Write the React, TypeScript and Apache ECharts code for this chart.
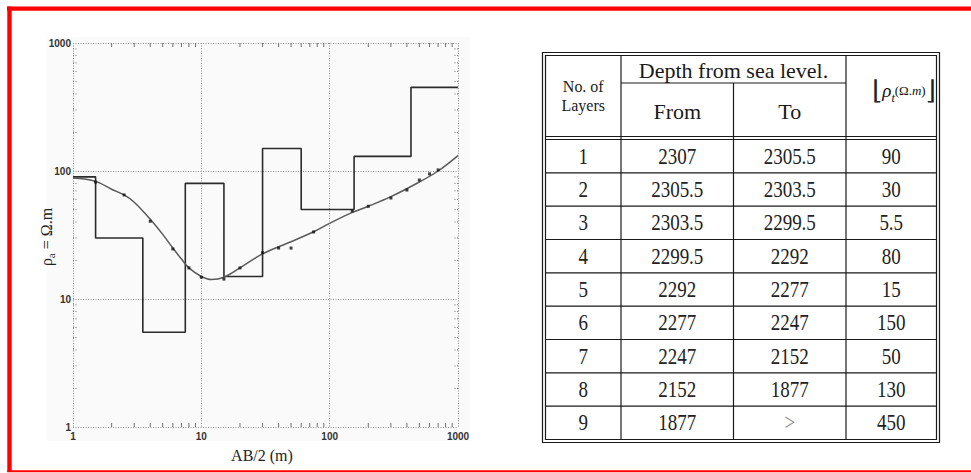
import React, { useEffect, useRef } from 'react';
import * as echarts from 'echarts';

// ---- Table data ----
const layerNo = ['1', '2', '3', '4', '5', '6', '7', '8', '9'];
const depthFrom = ['2307', '2305.5', '2303.5', '2299.5', '2292', '2277', '2247', '2152', '1877'];
const depthTo = ['2305.5', '2303.5', '2299.5', '2292', '2277', '2247', '2152', '1877', '>'];
const resistivity = [90, 30, 5.5, 80, 15, 150, 50, 130, 450];
const SURFACE = 2307;

// ---- Chart data ----
const AXIS_TICKS = [1, 10, 100, 1000];
const MINOR_TICKS = [2, 3, 4, 5, 6, 7, 8, 9, 20, 30, 40, 50, 60, 70, 80, 90, 200, 300, 400, 500, 600, 700, 800, 900];

const curveX = [1, 1.5, 2, 2.5, 3, 4, 5, 6, 7, 8, 10, 12, 15, 20, 30, 50, 75, 100, 150, 200, 300, 500, 700, 1000];
const curveY = [88, 83, 72, 65, 57, 42, 32, 25, 20.5, 17.5, 15, 14.2, 14.8, 17.5, 22.5, 28, 33.5, 39, 47.5, 53, 63, 82, 100, 132];

const dotX = [1.5, 2.5, 4, 6, 8, 10, 15, 20, 30, 40, 50, 75, 150, 200, 300, 400, 500, 600, 700];
const dotY = [82, 65, 40.5, 24.6, 17.5, 14.8, 14.3, 17.5, 23, 25, 25, 33.4, 48.7, 53, 61.5, 71, 85, 95, 102];

export default function App() {
  const ref = useRef<HTMLDivElement>(null);

  useEffect(() => {
    if (!ref.current) return;
    const chart = echarts.init(ref.current, null, { renderer: 'svg' });

    // model step line built from table depths (AB/2 = depth below surface)
    const stepPts: number[][] = [];
    let prev = AXIS_TICKS[0];
    for (let i = 0; i < resistivity.length; i++) {
      const end = i < resistivity.length - 1 ? SURFACE - Number(depthTo[i]) : AXIS_TICKS[AXIS_TICKS.length - 1];
      stepPts.push([prev, resistivity[i]], [end, resistivity[i]]);
      prev = end;
    }
    const curve = curveX.map((x, i) => [x, curveY[i]]);
    const dots = dotX.map((x, i) => [x, dotY[i]]);

    const xMin = AXIS_TICKS[0];
    const xMax = AXIS_TICKS[AXIS_TICKS.length - 1];

    // ---- table geometry ----
    const TL = 542.5, TR = 939.5, TT = 52.5, TB = 442.5;
    const IL = 545.5, IR = 936.5, IT = 55.5, IB = 439.5;
    const C1 = 621, C2 = 733.5, C3 = 846;
    const HMID = 83, H1 = 136.5, H2 = 139.5;
    const rowH = (IB - H2) / layerNo.length;
    const colCenters = [(IL + C1) / 2, (C1 + C2) / 2, (C2 + C3) / 2, (C3 + IR) / 2];
    const ink = '#1a1a1a';
    const lw = 1.2;
    const ln = (x1: number, y1: number, x2: number, y2: number) => ({
      type: 'line', silent: true,
      shape: { x1, y1, x2, y2 },
      style: { stroke: ink, lineWidth: lw },
    });
    const serif = 'Liberation Serif';
    const txt = (x: number, y: number, text: string, fontSize: number, fill = '#1a1a1a', scaleY = 1) => ({
      type: 'text', silent: true, x, y, scaleY,
      style: { text, fontSize, fontFamily: serif, fill, align: 'center', verticalAlign: 'middle' },
    });

    const tableEls: any[] = [
      { type: 'rect', silent: true, shape: { x: TL, y: TT, width: TR - TL, height: TB - TT }, style: { fill: 'none', stroke: ink, lineWidth: lw } },
      { type: 'rect', silent: true, shape: { x: IL, y: IT, width: IR - IL, height: IB - IT }, style: { fill: 'none', stroke: ink, lineWidth: lw } },
      ln(IL, H1, IR, H1),
      ln(IL, H2, IR, H2),
      ln(C1, IT, C1, IB),
      ln(C3, IT, C3, IB),
      ln(C2, HMID, C2, IB),
      ln(C1, HMID, C3, HMID),
    ];
    for (let k = 1; k < layerNo.length; k++) {
      const y = H2 + k * rowH;
      tableEls.push(ln(IL, y, IR, y));
    }
    tableEls.push(txt(colCenters[0], 86, 'No. of', 16, '#1a1a1a', 1.1));
    tableEls.push(txt(colCenters[0], 105, 'Layers', 16, '#1a1a1a', 1.1));
    tableEls.push(txt((C1 + C3) / 2, 70, 'Depth from sea level.', 22));
    tableEls.push(txt(colCenters[1], 111, 'From', 22));
    tableEls.push(txt(colCenters[2], 111, 'To', 22));
    tableEls.push({
      type: 'text', silent: true, x: 904, y: 90,
      style: {
        text: '{br|⌊}{rho|ρ}{sub|t}{s|(Ω.}{mi|m}{s|)}{br|⌋}',
        align: 'center', verticalAlign: 'middle', fill: '#111',
        rich: {
          br: { fontSize: 26, fontFamily: 'DejaVu Serif', fill: '#222', lineHeight: 28 },
          rho: { fontSize: 19, fontFamily: serif, fontStyle: 'italic', fill: '#111', lineHeight: 28 },
          sub: { fontSize: 12, fontFamily: serif, fontStyle: 'italic', fill: '#111', lineHeight: 28, verticalAlign: 'bottom' },
          s: { fontSize: 13, fontFamily: serif, fill: '#111', lineHeight: 28 },
          mi: { fontSize: 13, fontFamily: serif, fontStyle: 'italic', fill: '#111', lineHeight: 28 },
        },
      },
    });
    for (let i = 0; i < layerNo.length; i++) {
      const cy = H2 + (i + 0.5) * rowH;
      tableEls.push(txt(colCenters[0], cy, layerNo[i], 19, '#222', 1.2));
      tableEls.push(txt(colCenters[1], cy, depthFrom[i], 19, '#222', 1.2));
      tableEls.push(txt(colCenters[2], cy, depthTo[i], 19, depthTo[i] === '>' ? '#888' : '#222', 1.2));
      tableEls.push(txt(colCenters[3], cy, String(resistivity[i]), 19, '#222', 1.2));
    }

    const frameEls: any[] = [
      { type: 'rect', silent: true, z: -10, shape: { x: 47, y: 37, width: 423, height: 404 }, style: { fill: '#fafafa' } },
      { type: 'rect', silent: true, shape: { x: 7, y: 6.5, width: 964, height: 4.3 }, style: { fill: '#ff0000' } },
      { type: 'rect', silent: true, shape: { x: 7.3, y: 6.5, width: 4.4, height: 465.5 }, style: { fill: '#ff0000' } },
      { type: 'rect', silent: true, shape: { x: 7.3, y: 470.2, width: 963.7, height: 2 }, style: { fill: '#ff0000' } },
      txt(262, 455, 'AB/2 (m)', 16, '#222'),
      {
        type: 'text', silent: true, x: 46, y: 237, rotation: Math.PI / 2,
        style: {
          text: '{a|ρ}{b|a}{a| = Ω.m}',
          align: 'center', verticalAlign: 'middle', fill: '#222',
          rich: {
            a: { fontSize: 16, fontFamily: serif, fill: '#222', lineHeight: 20 },
            b: { fontSize: 11, fontFamily: serif, fill: '#222', lineHeight: 20, verticalAlign: 'bottom' },
          },
        },
      },
    ];

    const labelFmt = (v: number) => String(Math.round(v));
    const labelStyle = { fontSize: 10, fontWeight: 'bold', color: '#333', fontFamily: 'Liberation Sans' };
    const gridLine = { show: true, lineStyle: { color: '#8c8c8c', type: [1, 1.5], width: 1 } };

    const tickColor = '#707070';

    const option: any = {
      animation: false,
      backgroundColor: '#ffffff',
      grid: { left: 73, top: 43, width: 385, height: 384, containLabel: false },
      xAxis: {
        type: 'log', logBase: 10, min: xMin, max: xMax,
        axisLine: { show: false }, axisTick: { show: false },
        axisLabel: { ...labelStyle, margin: 4, formatter: labelFmt },
        splitLine: gridLine,
      },
      yAxis: {
        type: 'log', logBase: 10, min: xMin, max: xMax,
        axisLine: { show: false }, axisTick: { show: false },
        axisLabel: { ...labelStyle, margin: 2, formatter: labelFmt },
        splitLine: gridLine,
      },
      graphic: { elements: [...frameEls, ...tableEls] },
      series: [
        {
          type: 'custom', silent: true, clip: false, z: 2,
          data: MINOR_TICKS.map((v) => [v, xMin]),
          encode: { x: 0, y: 1 },
          renderItem: (params: any, api: any) => {
            const v = api.value(0);
            const b = api.coord([v, xMin]);
            const t = api.coord([v, xMax]);
            return {
              type: 'group',
              children: [
                { type: 'line', shape: { x1: b[0], y1: b[1], x2: b[0], y2: b[1] - 4 }, style: { stroke: tickColor, lineWidth: 1 } },
                { type: 'line', shape: { x1: t[0], y1: t[1], x2: t[0], y2: t[1] + 4 }, style: { stroke: tickColor, lineWidth: 1 } },
              ],
            };
          },
        },
        {
          type: 'custom', silent: true, clip: false, z: 2,
          data: MINOR_TICKS.map((v) => [xMin, v]),
          encode: { x: 0, y: 1 },
          renderItem: (params: any, api: any) => {
            const v = api.value(1);
            const l = api.coord([xMin, v]);
            const r = api.coord([xMax, v]);
            return {
              type: 'group',
              children: [
                { type: 'line', shape: { x1: l[0], y1: l[1], x2: l[0] + 5, y2: l[1] }, style: { stroke: tickColor, lineWidth: 1, lineDash: [1, 1.5] } },
                { type: 'line', shape: { x1: r[0], y1: r[1], x2: r[0] - 5, y2: r[1] }, style: { stroke: tickColor, lineWidth: 1, lineDash: [1, 1.5] } },
              ],
            };
          },
        },
        {
          type: 'line', data: stepPts, symbol: 'none', z: 3, silent: true,
          lineStyle: { color: '#2b2b2b', width: 1.6 },
        },
        {
          type: 'line', data: curve, symbol: 'none', smooth: 0.35, z: 4, silent: true,
          lineStyle: { color: '#5a5a5a', width: 1.5 },
        },
        {
          type: 'scatter', data: dots, symbol: 'rect', symbolSize: 3, z: 5, silent: true,
          itemStyle: { color: '#111' },
        },
      ],
    };

    chart.setOption(option);
    return () => chart.dispose();
  }, []);

  return (
    <div
      ref={ref}
      style={{ position: 'absolute', left: 0, top: 0, width: 971, height: 473, background: '#fff' }}
    />
  );
}
